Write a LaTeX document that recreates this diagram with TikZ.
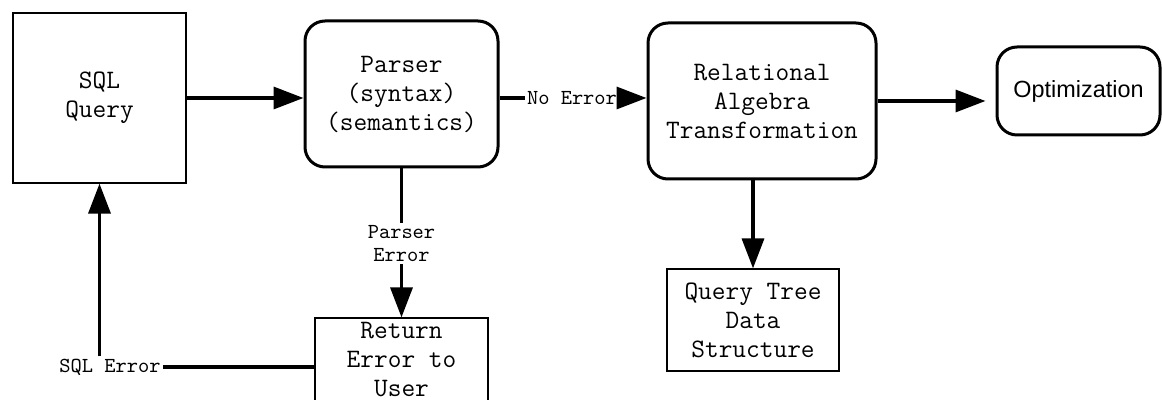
\documentclass[tikz,border=0pt]{standalone}
\usepackage{fontspec}
\newfontfamily\plainsans{Liberation Sans}
\usetikzlibrary{arrows.meta}
\begin{document}
\begin{tikzpicture}[x=0.5pt,y=-0.5pt,
  plainbox/.style={draw,line width=0.6pt,align=center,inner sep=0pt,
    font=\ttfamily\fontsize{13.3}{14.5}\selectfont},
  roundbox/.style={draw,line width=1.5pt,rounded corners=10pt,align=center,inner sep=0pt,
    font=\ttfamily\fontsize{13.3}{14.5}\selectfont},
  lbl/.style={align=center,inner sep=1pt,font=\ttfamily\fontsize{10.7}{11.5}\selectfont},
  link/.style={line width=1.7pt},
  flow/.style={line width=1.7pt,-{Triangle[length=15pt,width=11pt]}}]
\useasboundingbox (0,0) rectangle (1162,400);
\clip (0,0) rectangle (1162,400);

% boxes
\node[plainbox,minimum width=86.5pt,minimum height=85pt] (sql) at (99.5,98) {SQL\\Query};
\node[roundbox,minimum width=96.5pt,minimum height=73pt] (parser) at (401.5,94) {Parser\\(syntax)\\(semantics)};
\node[roundbox,minimum width=114pt,minimum height=78pt] (rel) at (762,101) {Relational\\Algebra\\Transformation};
\node[roundbox,minimum width=81.5pt,minimum height=44pt,font=\plainsans\fontsize{11.7}{14.5}\selectfont] (opt) at (1078.5,91) {Optimization};
\node[plainbox,minimum width=86.5pt,minimum height=42pt] (ret) at (401.5,360) {Return\\Error to\\User};
\node[plainbox,minimum width=86pt,minimum height=51pt] (qt) at (753,320) {Query Tree\\Data\\Structure};

% connector labels
\node[lbl] (noerr) at (572,98) {No Error};
\node[lbl] (perr) at (401.5,244) {Parser\\Error};
\node[lbl] (sqlerr) at (110,367) {SQL Error};

% connectors
\draw[flow] (sql.east) -- (sql.east -| parser.west);
\draw[link] (noerr.west -| parser.east) -- (noerr.west);
\draw[flow] (noerr.east) -- (noerr.east -| rel.west);
\draw[flow,shorten >=5pt] (rel.east) -- (rel.east -| opt.west);
\draw[link] (parser.south) -- (perr.north);
\draw[flow] (perr.south) -- (ret.north);
\draw[flow] (rel.south -| qt.north) -- (qt.north);
\draw[link] (ret.west |- sqlerr.east) -- (sqlerr.east);
\draw[flow] (sql.south |- sqlerr.north) -- (sql.south);
\end{tikzpicture}
\end{document}
